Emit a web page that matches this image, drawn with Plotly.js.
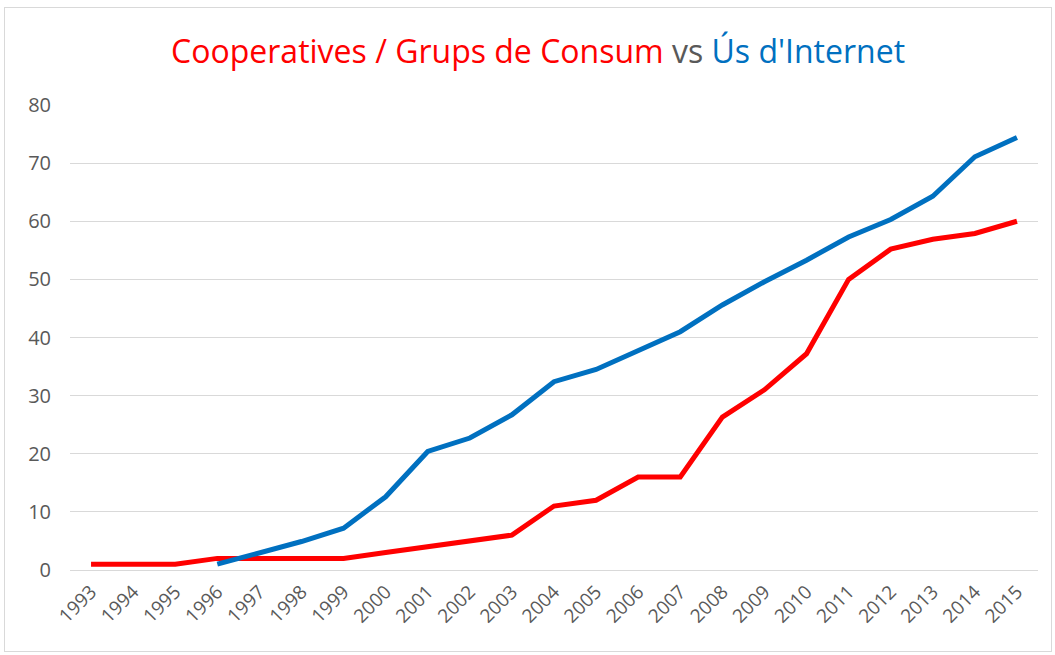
<!DOCTYPE html>
<html>
<head>
<meta charset="utf-8">
<script src="https://cdn.plot.ly/plotly-3.0.1.min.js"></script>
<style>
  html, body { margin: 0; padding: 0; background: #fff; }
  #chart { position: absolute; left: 0; top: 0; width: 1055px; height: 655px; }
  #frame { position: absolute; left: 4px; top: 7px; width: 1046px; height: 643px; border: 1px solid #D9D9D9; pointer-events: none; }
</style>
</head>
<body>
<div id="chart"></div>
<div id="frame"></div>
<script>
const years = ["1993","1994","1995","1996","1997","1998","1999","2000","2001","2002","2003","2004","2005","2006","2007","2008","2009","2010","2011","2012","2013","2014","2015"];
const cooperatives = [1,1,1,2,2,2,2,3,4,5,6,11,12,16,16,26.3,31,37.2,50,55.2,56.9,57.9,60];
const internetYears = ["1996","1997","1998","1999","2000","2001","2002","2003","2004","2005","2006","2007","2008","2009","2010","2011","2012","2013","2014","2015"];
const internet = [1,2.9,4.9,7.2,12.6,20.4,22.7,26.7,32.4,34.5,37.8,41,45.6,49.6,53.3,57.3,60.3,64.3,71.1,74.4];
const yTicks = [0,10,20,30,40,50,60,70,80];

const fontFam = "'Open Sans', sans-serif";

const traces = [
  { x: years, y: cooperatives, type: 'scatter', mode: 'lines', name: 'Cooperatives / Grups de Consum',
    line: { color: '#FF0000', width: 5 } },
  { x: internetYears, y: internet, type: 'scatter', mode: 'lines', name: "Ús d'Internet",
    line: { color: '#0070C0', width: 5 } }
];

const layout = {
  width: 1055, height: 655,
  paper_bgcolor: '#ffffff', plot_bgcolor: '#ffffff',
  showlegend: false,
  margin: { l: 70, r: 17, t: 105, b: 85 },
  title: {
    text: "<span style='color:#FF0000'>Cooperatives / Grups de Consum</span> <span style='color:#595959'>vs</span> <span style='color:#0070C0'>Ús d'Internet</span>",
    font: { family: fontFam, size: 32, color: '#595959' },
    x: 0.51, xanchor: 'center', y: 0.921, yanchor: 'middle'
  },
  xaxis: {
    type: 'category', categoryorder: 'array', categoryarray: years,
    range: [-0.5, 22.5], tickangle: -45,
    showgrid: false, zeroline: false, showline: false, ticks: '',
    tickfont: { family: fontFam, size: 19, color: '#595959' },
    ticklabelstandoff: 6
  },
  yaxis: {
    range: [0, 80], tickvals: yTicks, ticktext: yTicks.map(String),
    showgrid: true, gridcolor: '#D9D9D9', gridwidth: 1,
    zeroline: true, zerolinecolor: '#D9D9D9', zerolinewidth: 1,
    showline: false, ticks: '',
    tickfont: { family: fontFam, size: 20, color: '#595959' },
    ticklabelstandoff: 18
  }
};

Plotly.newPlot('chart', traces, layout, { displayModeBar: false, staticPlot: true });
</script>
</body>
</html>
